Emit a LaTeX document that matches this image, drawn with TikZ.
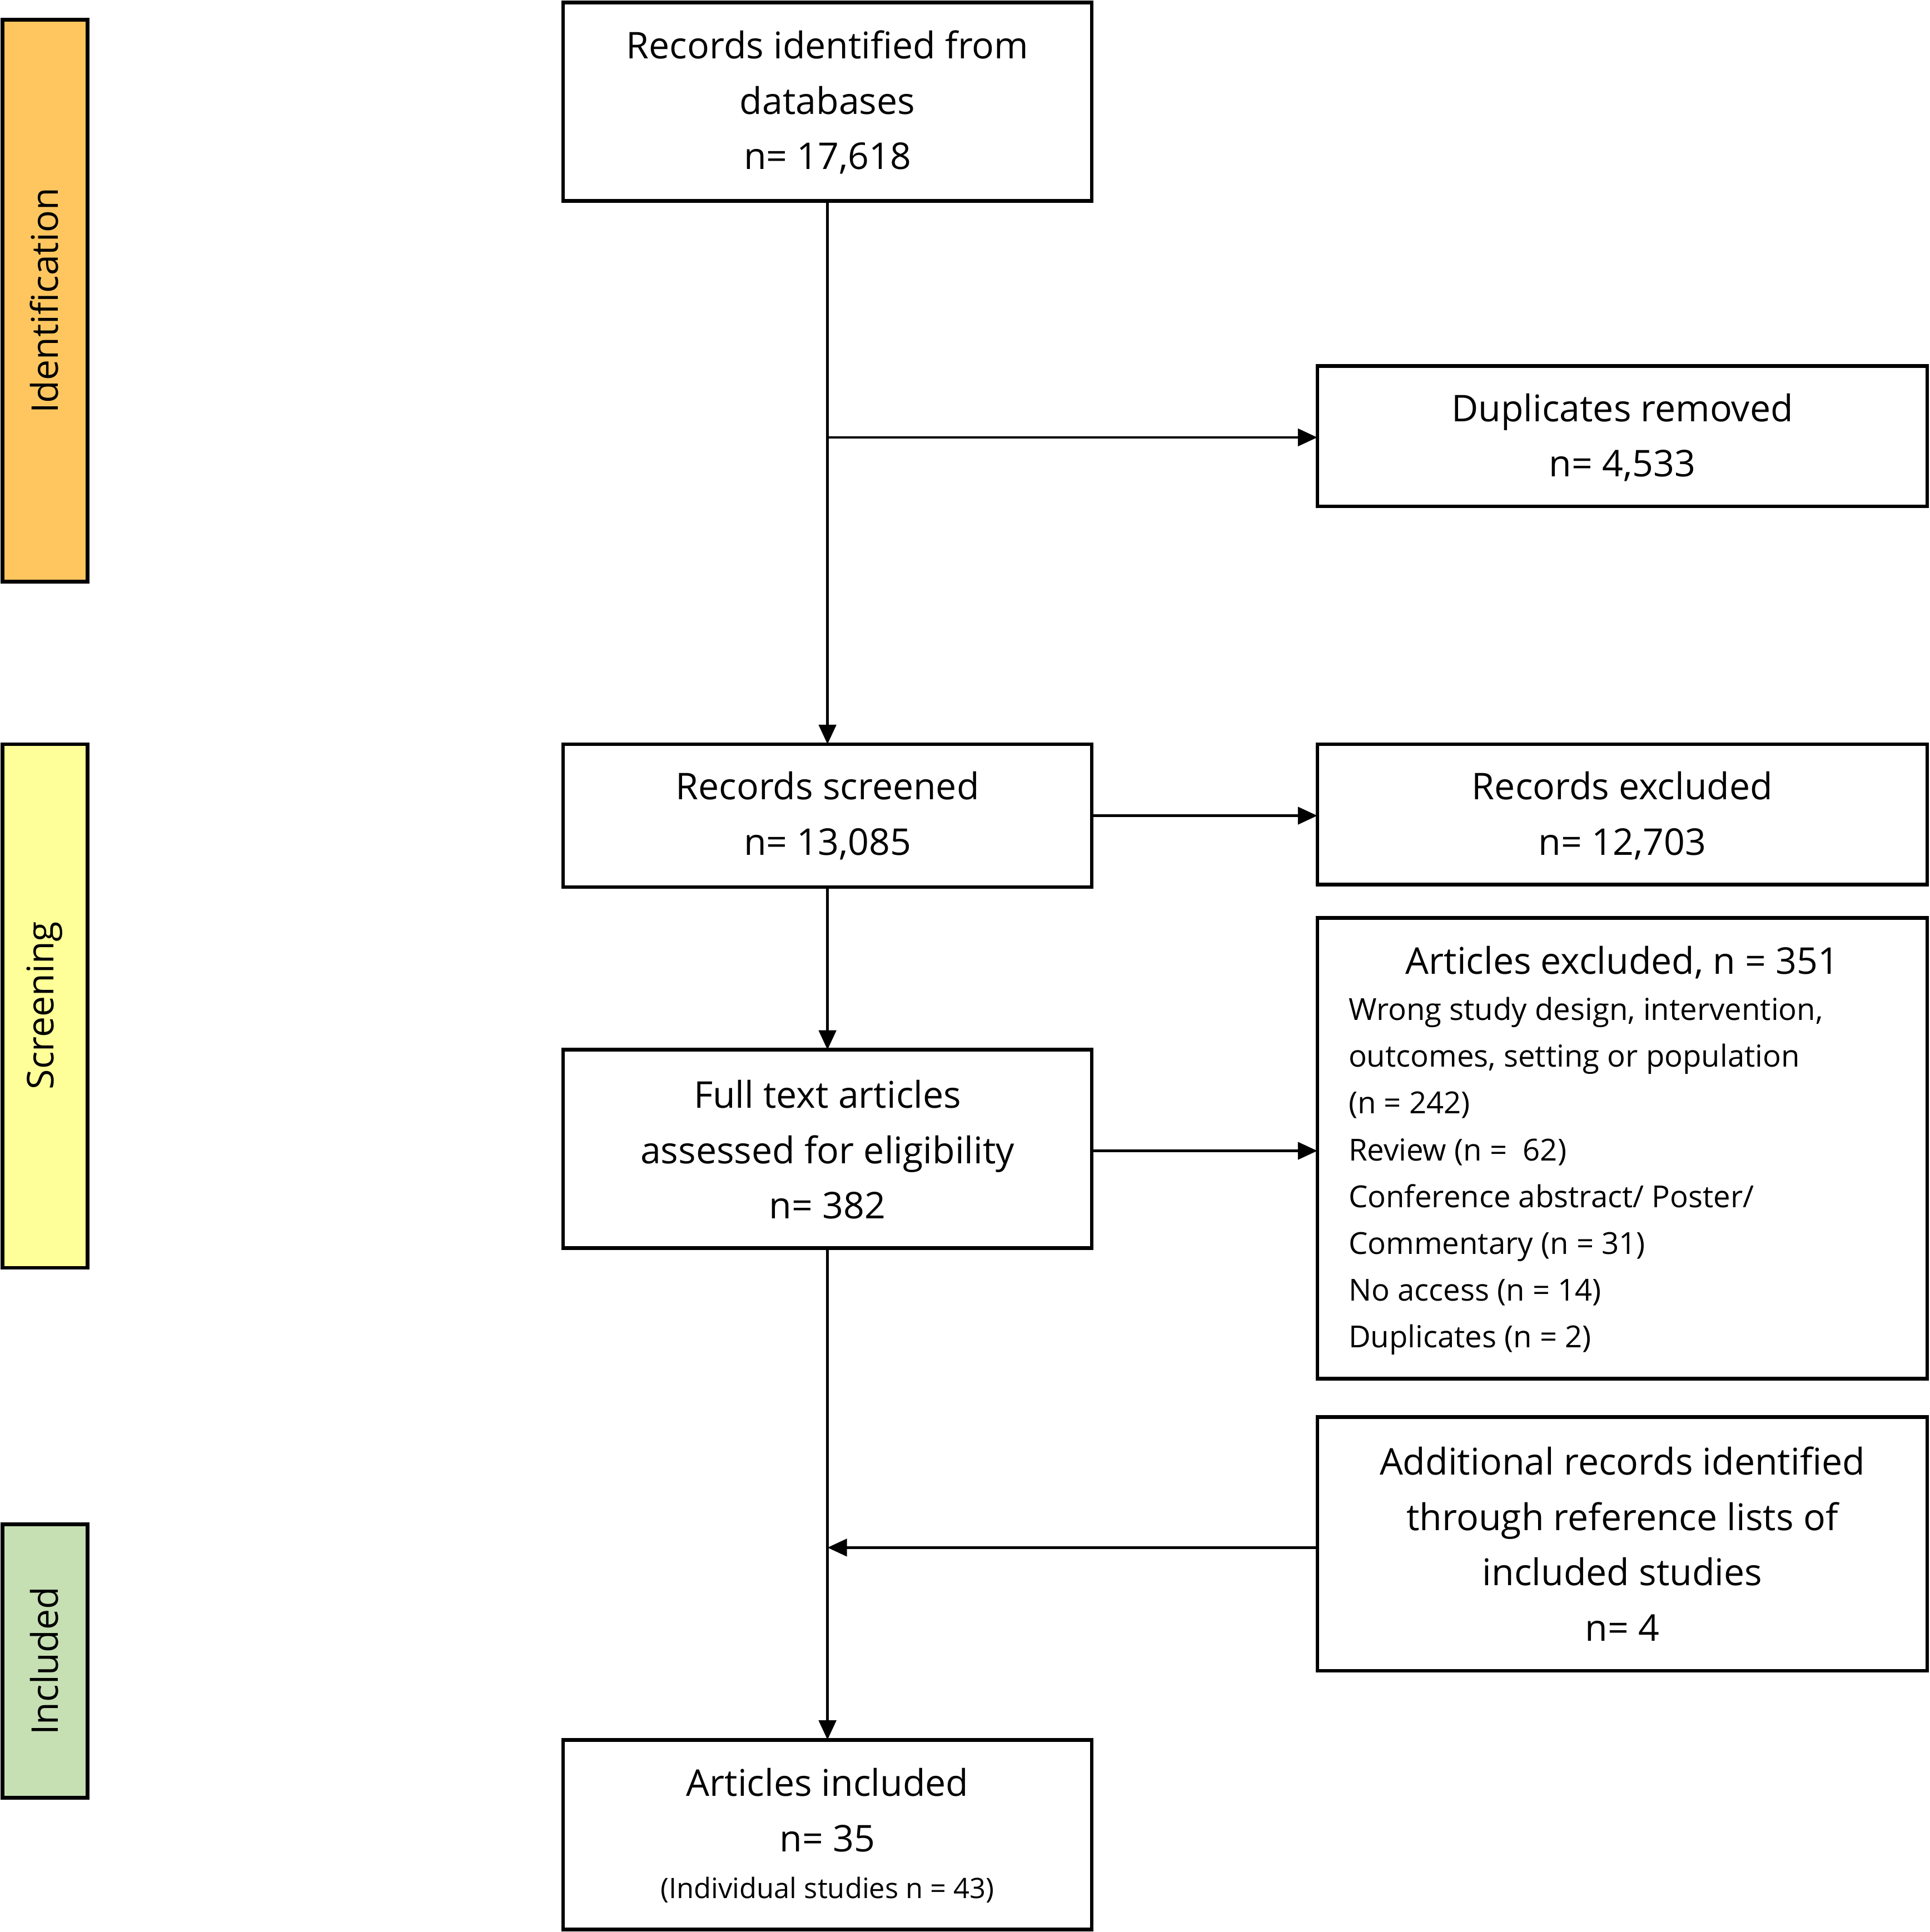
\documentclass[tikz,border=0pt]{standalone}
\usepackage{fontspec}
\setmainfont{Open Sans}
\usetikzlibrary{arrows.meta}
\begin{document}
\begin{tikzpicture}[x=0.02cm,y=-0.02cm,
  box/.style={draw,line width=1.7pt},
  bar/.style={draw,line width=1.7pt},
  txt/.style={align=center,font=\fontsize{17}{25.6}\selectfont,inner sep=0},
  small/.style={align=left,font=\fontsize{14}{21.6}\selectfont,inner sep=0},
  arr/.style={line width=1.2pt,-{Triangle[length=9pt,width=8pt]}}]
\useasboundingbox (0,0) rectangle (1566,1568);
% stage bars
\draw[bar,fill={rgb,255:red,255;green,198;blue,95}] (2,16) rectangle (71,472);
\draw[bar,fill={rgb,255:red,255;green,255;blue,153}] (2,604) rectangle (71,1029);
\draw[bar,fill={rgb,255:red,198;green,224;blue,180}] (2,1237) rectangle (71,1459);
\node[txt,rotate=90] (lid) at (36,244) {Identification};
\node[txt,rotate=90] (lsc) at (36,816) {Screening};
\node[txt,rotate=90] (lin) at (36,1348) {Included};
% boxes
\draw[box] (457,2) rectangle (886,163); \node (b1) at (671.5,82.5) {};
\node[txt] (t1) at (671.5,83) {Records identified from\\databases\\n= 17,618};
\draw[box] (1069,297) rectangle (1564,411);
\node[txt] (tdup) at (1316.5,355) {Duplicates removed\\n= 4,533};
\draw[box] (457,604) rectangle (886,720);
\node[txt] (tscr) at (671.5,662) {Records screened\\n= 13,085};
\draw[box] (1069,604) rectangle (1564,718);
\node[txt] (texc) at (1316.5,662) {Records excluded\\n= 12,703};
\draw[box] (457,852) rectangle (886,1013);
\node[txt] (tft) at (671.5,933) {Full text articles\\assessed for eligibility\\n= 382};
\draw[box] (1069,745) rectangle (1564,1119);
\node[txt] (tae) at (1316.5,781) {Articles excluded, n = 351};
\node[small,anchor=north west] (tael) at (1094,809) {Wrong study design, intervention,\\outcomes, setting or population\\(n = 242)\\Review (n = \ 62)\\Conference abstract/ Poster/\\Commentary (n = 31)\\No access (n = 14)\\Duplicates (n = 2)};
\draw[box] (1069,1150) rectangle (1564,1356);
\node[txt] (tadd) at (1316.5,1253) {Additional records identified\\through reference lists of\\included studies\\n= 4};
\draw[box] (457,1412) rectangle (886,1566);
\node[txt] (tinc) at (671.5,1469) {Articles included\\n= 35};
\node[inner sep=0,font=\fontsize{13}{16}\selectfont] (tinc2) at (671.5,1534) {(Individual studies n = 43)};
% connectors
\coordinate (a1) at (671.5,163); \coordinate (a2) at (671.5,604);
\coordinate (j1) at (671.5,355); \coordinate (d1) at (1069,355);
\coordinate (s1) at (886,662); \coordinate (e1) at (1069,662);
\coordinate (s2) at (671.5,720); \coordinate (f1) at (671.5,852);
\coordinate (f2) at (886,934); \coordinate (x1) at (1069,934);
\coordinate (f3) at (671.5,1013); \coordinate (i1) at (671.5,1412);
\coordinate (ad) at (1069,1256); \coordinate (j2) at (671.5,1256);
\draw[arr] (a1) -- (a2);
\draw[arr] (j1) -- (d1);
\draw[arr] (s1) -- (e1);
\draw[arr] (s2) -- (f1);
\draw[arr] (f2) -- (x1);
\draw[arr] (f3) -- (i1);
\draw[arr] (ad) -- (j2);
\end{tikzpicture}
\end{document}
